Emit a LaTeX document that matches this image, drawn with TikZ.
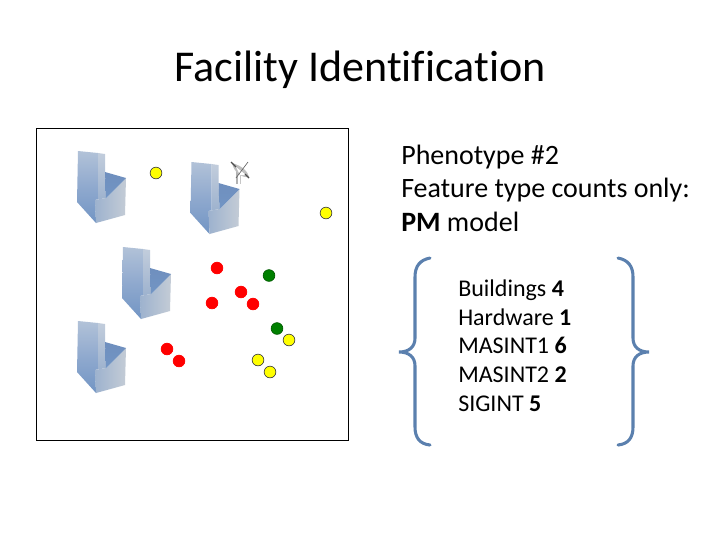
\documentclass[tikz,border=0pt]{standalone}
\usepackage{fontspec}
\setmainfont[Ligatures=NoCommon]{Carlito}
\definecolor{bracecol}{HTML}{5B80AE}
\definecolor{bldA}{HTML}{B2C2D8}
\definecolor{bldB}{HTML}{7295C4}
\definecolor{bldC}{HTML}{8FA9CE}
\definecolor{bldD}{HTML}{C4CCD6}
\definecolor{bldE}{HTML}{6F8FBE}
\definecolor{bldF}{HTML}{9DB2CE}
\definecolor{bldG}{HTML}{C2CDDC}
\definecolor{dotyellow}{HTML}{FFFF00}
\definecolor{dotgreen}{HTML}{008000}
\definecolor{dotred}{HTML}{FF0000}
\tikzset{
  dot/.style={circle,draw=black!75,line width=0.5pt,minimum size=8.8pt,inner sep=0pt},
  ydot/.style={dot,fill=dotyellow},
  gdot/.style={dot,fill=dotgreen,draw=dotgreen!70!black},
  rdot/.style={dot,fill=dotred,draw=dotred},
  curly/.style={draw=bracecol,line width=2.3pt,line cap=round},
  frame/.style={draw=black,line width=0.6pt,fill=white},
  txt/.style={anchor=base west,inner sep=0pt,text=black},
  bigtxt/.style={txt,font=\fontsize{21}{25}\selectfont},
  listtxt/.style={txt,font=\fontsize{18}{22}\selectfont},
  building/.pic={
    \shade[top color=bldA,bottom color=bldB,middle color=bldC] (0,0) -- (20,2) -- (20,48) -- (17,49) -- (18,72) -- (-1,51) -- cycle;
    \shade[top color=bldG,bottom color=bldF] (20,2) -- (27,3) -- (27,21) -- (28,47) -- (17,49) -- (20,48) -- cycle;
    \shade[left color=bldF,right color=bldD] (17,49) -- (28,47) -- (48,27) -- (47,64) -- (18,72) -- cycle;
    \shade[top color=bldE,bottom color=bldB] (27,21) -- (48,27) -- (28,47) -- cycle;
  }
}
\begin{document}
\begin{tikzpicture}[x=0.75pt,y=-0.75pt]
\useasboundingbox (0,0) rectangle (720,540);
\node[txt,font=\fontsize{33}{38}\selectfont] (title) at (174.5,81) {Facility Identification};
\node[frame,minimum width=234pt,minimum height=234pt,inner sep=0pt] (box) at (192.5,284) {};
\pic at (78,151) {building};
\pic at (191.5,162) {building};
\pic at (123,247) {building};
\pic at (78,321) {building};
% antenna
\draw[gray!60,line width=1.1pt] (237,172) -- (237,184);
\draw[gray!45,line width=0.6pt] (240,172) -- (240,184);
\fill[gray!50] (232,163) .. controls (243,166) and (248,172) .. (249,177) .. controls (241,178) and (234,172) .. cycle;
\fill[white] (236,167) -- (246,175) -- (240,175) -- cycle;
\draw[black!70,line width=1pt] (231,162) -- (236,167);
\draw[black!70,line width=1pt] (245,174) -- (249,178);
\draw[black!60,line width=0.5pt] (248,162) -- (236,178);
% dots
\node[ydot] (y1) at (156,173) {};
\node[ydot] (y2) at (326,213) {};
\node[ydot] (y3) at (289,340) {};
\node[ydot] (y4) at (258,360) {};
\node[ydot] (y5) at (270,372) {};
\node[gdot] (g1) at (269,275.5) {};
\node[gdot] (g2) at (277,328.5) {};
\node[rdot] (r1) at (217,268) {};
\node[rdot] (r2) at (241,292) {};
\node[rdot] (r3) at (212,303) {};
\node[rdot] (r4) at (253,304) {};
\node[rdot] (r5) at (167,349) {};
\node[rdot] (r6) at (179,361) {};
% upper text
\node[bigtxt] (p1) at (401,164) {Phenotype \#2};
\node[bigtxt] (p2) at (401,197) {Feature type counts only:};
\node[bigtxt] (p3) at (401,231) {\textbf{PM} model};
% list
\node[listtxt] (l1) at (458,296) {Buildings \textbf{4}};
\node[listtxt] (l2) at (458,325) {Hardware \textbf{1}};
\node[listtxt] (l3) at (458,353) {MASINT1 \textbf{6}};
\node[listtxt] (l4) at (458,382) {MASINT2 \textbf{2}};
\node[listtxt] (l5) at (458,411) {SIGINT \textbf{5}};
% braces
\draw[curly] (430,258) .. controls (420,260) and (415,266) .. (415,277) -- (415,338)
  .. controls (415,347) and (409,352) .. (399,352) .. controls (409,352) and (415,357) .. (415,366)
  -- (415,427) .. controls (415,438) and (420,444) .. (430,445);
\draw[curly] (618,258) .. controls (628,260) and (633,266) .. (633,277) -- (633,338)
  .. controls (633,347) and (639,352) .. (649,352) .. controls (639,352) and (633,357) .. (633,366)
  -- (633,427) .. controls (633,438) and (628,444) .. (618,445);
\end{tikzpicture}
\end{document}
